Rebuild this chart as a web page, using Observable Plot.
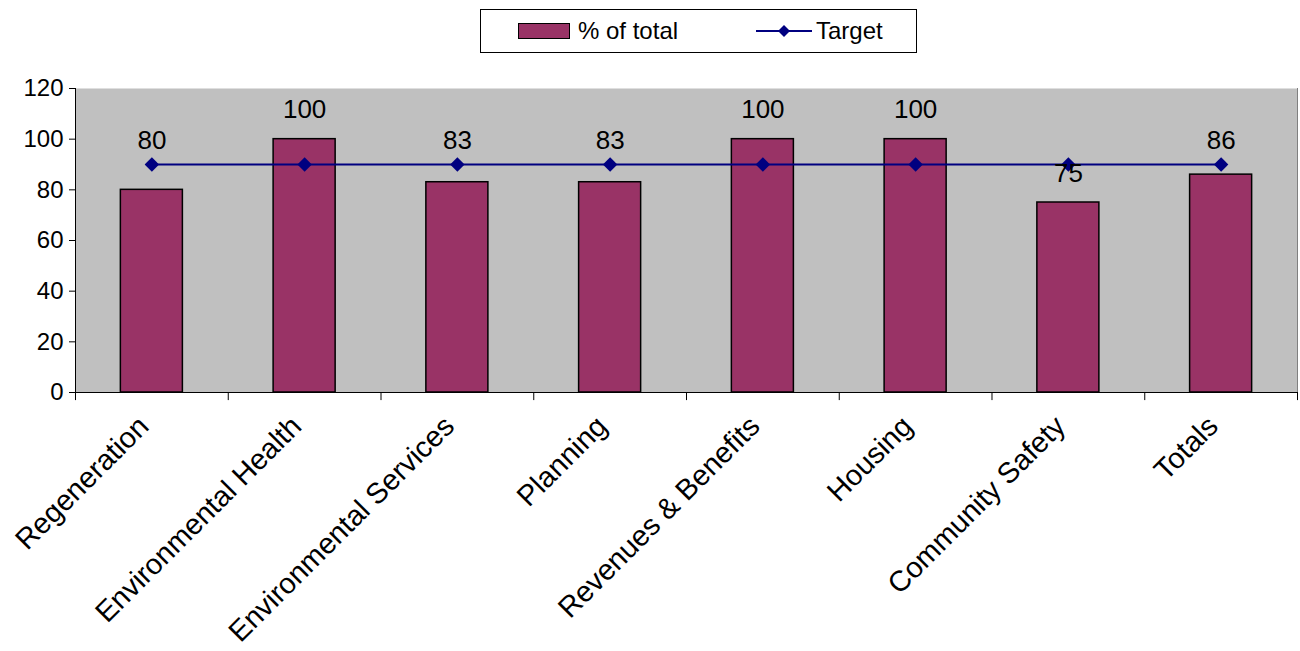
<!DOCTYPE html>
<html>
<head>
<meta charset="utf-8">
<script src="https://cdn.jsdelivr.net/npm/d3@7"></script>
<script src="https://cdn.jsdelivr.net/npm/@observablehq/plot@0.6"></script>
<style>
  body { margin: 0; background: #fff; font-family: Arial, "Liberation Sans", sans-serif; }
  #page { width: 1300px; height: 651px; position: relative; overflow: hidden; }
  #legendRow { position: relative; height: 62px; }
  #legend { position: absolute; left: 480px; top: 9px; width: 437px; height: 44px;
            border: 1px solid #000; background: #fff; box-sizing: border-box; }
  #legend .item { position: absolute; top: 0; height: 42px; display: flex; align-items: center;
                  font-size: 24px; color: #000; white-space: nowrap; }
  #legend .swatch { width: 50px; height: 14px; background: #993366; border: 1.5px solid #000; margin-right: 8px; }
  #legend svg { margin-right: 4px; }
</style>
</head>
<body>
<div id="page">
  <div id="legendRow">
    <div id="legend">
      <div class="item" style="left:37px"><div class="swatch"></div><span>% of total</span></div>
      <div class="item" style="left:275px">
        <svg width="56" height="14" viewBox="0 0 56 14">
          <line x1="0" y1="7" x2="56" y2="7" stroke="#000080" stroke-width="2"></line>
          <path d="M28 1 L34 7 L28 13 L22 7 Z" fill="#000080"></path>
        </svg>
        <span>Target</span>
      </div>
    </div>
  </div>
  <div id="chart"></div>
</div>
<script>
// Departments and their scores
const categories = [
  "Regeneration",
  "Environmental Health",
  "Environmental Services",
  "Planning",
  "Revenues & Benefits",
  "Housing",
  "Community Safety",
  "Totals"
];
const pctOfTotal = [80, 100, 83, 83, 100, 100, 75, 86];
const targetValues = [90, 90, 90, 90, 90, 90, 90, 90];
const yTicks = [0, 20, 40, 60, 80, 100, 120];

const rows = categories.map((category, i) => ({
  category,
  pct: pctOfTotal[i],
  target: targetValues[i]
}));

// Labels for bars just below the target line are lifted above the line
const nearTarget = d => d.pct < d.target && d.pct > d.target - 12;

const width = 1300, height = 589;
const marginLeft = 75, marginRight = 3;
const step = (width - marginLeft - marginRight) / categories.length;

const chart = Plot.plot({
  width,
  height,
  marginTop: 26,
  marginBottom: 259,
  marginLeft,
  marginRight,
  style: { fontFamily: "Arial, 'Liberation Sans', sans-serif", fontSize: "24px", color: "#000", background: "transparent" },
  x: { domain: categories, paddingInner: 0.594, paddingOuter: 0.297, round: false, label: null },
  y: { domain: [0, 120], label: null },
  marks: [
    Plot.frame({ fill: "#C0C0C0", stroke: null }),
    Plot.frame({ anchor: "right", stroke: "#808080" }),
    Plot.barY(rows, { x: "category", y: "pct", fill: "#993366", stroke: "#000", strokeWidth: 1.5 }),
    Plot.line(rows, { x: "category", y: "target", stroke: "#000080", strokeWidth: 2 }),
    Plot.dot(rows, { x: "category", y: "target", symbol: "diamond2", r: 6.5, fill: "#000080", stroke: null }),
    Plot.text(rows.filter(d => !nearTarget(d)), {
      x: "category", y: "pct", dy: -29,
      text: d => String(d.pct), fontSize: 26, fill: "#000"
    }),
    Plot.text(rows.filter(nearTarget), {
      x: "category", y: "target", dy: -24,
      text: d => String(d.pct), fontSize: 26, fill: "#000"
    }),
    // category boundary ticks below the baseline
    Plot.ruleX(categories, { x: d => d, dx: -step / 2, y1: 0, y2: -3.2, stroke: "#000" }),
    Plot.ruleX(categories.slice(-1), { x: d => d, dx: step / 2, y1: 0, y2: -3.2, stroke: "#000" }),
    Plot.ruleY([0], { stroke: "#000" }),
    Plot.frame({ anchor: "left", stroke: "#000" }),
    Plot.axisY({ ticks: yTicks, tickSize: 6, tickPadding: 6, fontSize: 24, tickFormat: d => String(d), stroke: "#000" }),
    Plot.axisX({ tickSize: 0, tickRotate: -45, tickPadding: 29, dx: -8, fontSize: 29 })
  ]
});
document.getElementById("chart").appendChild(chart);
</script>
</body>
</html>
